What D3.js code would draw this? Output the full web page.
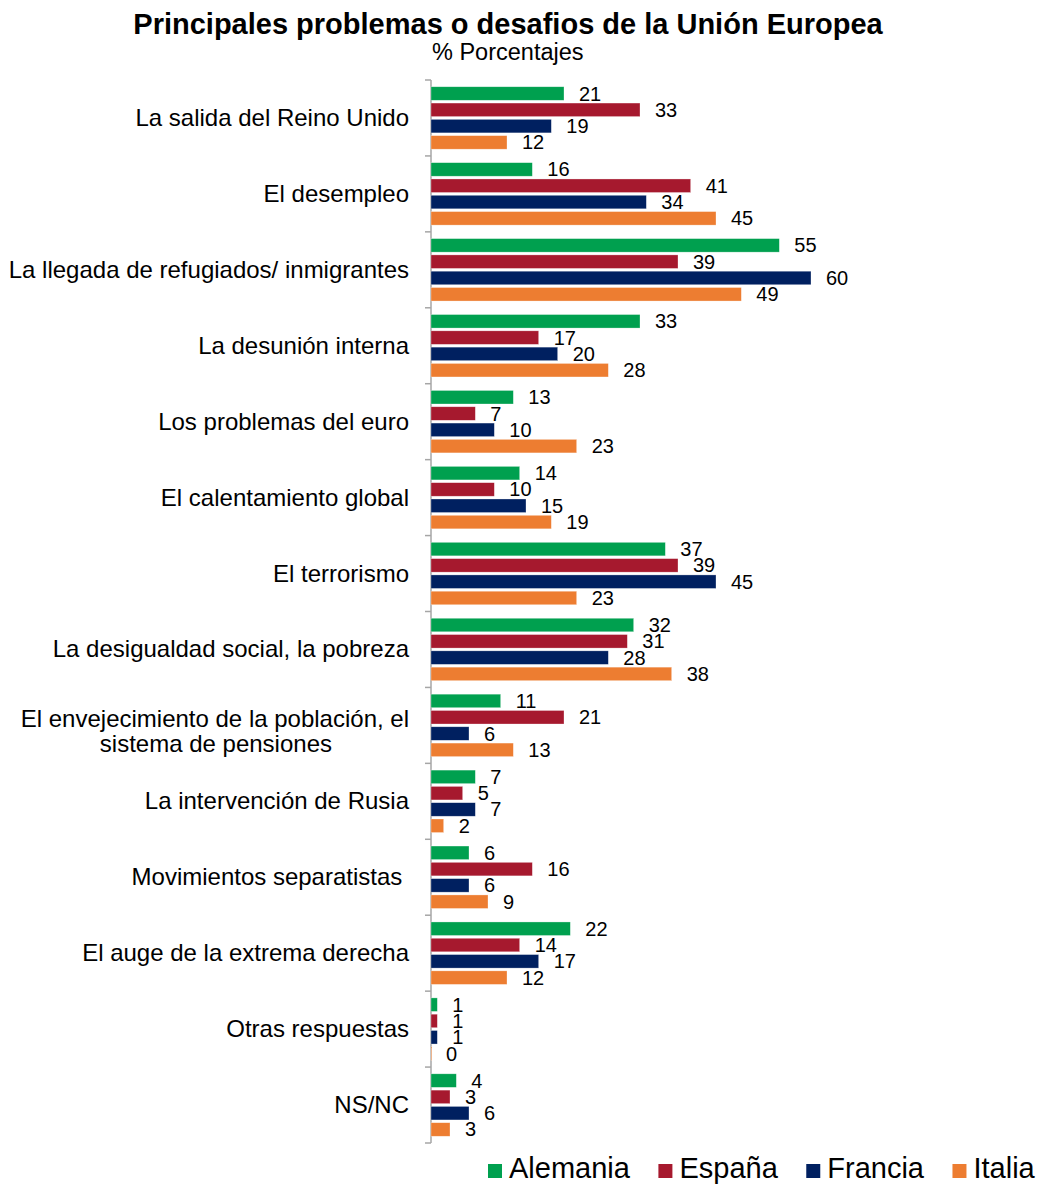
<!DOCTYPE html>
<html>
<head>
<meta charset="utf-8">
<script src="https://cdn.jsdelivr.net/npm/d3@7"></script>
<style>
  body { margin: 0; background: #fff; }
  text { font-family: "Liberation Sans", Arial, sans-serif; fill: #000; }
</style>
</head>
<body>
<div id="chart"></div>
<script>
const categories = [
  "La salida del Reino Unido",
  "El desempleo",
  "La llegada de refugiados/ inmigrantes",
  "La desunión interna",
  "Los problemas del euro",
  "El calentamiento global",
  "El terrorismo",
  "La desigualdad social, la pobreza",
  "El envejecimiento de la población, el|sistema de pensiones",
  "La intervención de Rusia",
  "Movimientos separatistas ",
  "El auge de la extrema derecha",
  "Otras respuestas",
  "NS/NC"
];
const seriesNames = ["Alemania", "España", "Francia", "Italia"];
const alemania = [21, 16, 55, 33, 13, 14, 37, 32, 11, 7, 6, 22, 1, 4];
const espana   = [33, 41, 39, 17, 7, 10, 39, 31, 21, 5, 16, 14, 1, 3];
const francia  = [19, 34, 60, 20, 10, 15, 45, 28, 6, 7, 6, 17, 1, 6];
const italia   = [12, 45, 49, 28, 23, 19, 23, 38, 13, 2, 9, 12, 0, 3];
const colors = ["#00A04F", "#A6192E", "#002060", "#ED7D31"];

const seriesValues = [alemania, espana, francia, italia];
const data = categories.map((c, i) => ({
  cat: c,
  vals: seriesNames.map((s, j) => ({ key: s, value: seriesValues[j][i] }))
}));

const width = 1043, height = 1184;
const svg = d3.select("#chart").append("svg")
  .attr("width", width)
  .attr("height", height);

const x = d3.scaleLinear().domain([0, 60]).range([431, 811]);
const y = d3.scaleBand().domain(categories).range([80, 1143]).padding(0);
const yInner = d3.scaleBand().domain(seriesNames)
  .range([0, y.bandwidth()]).paddingInner(0.17).paddingOuter(0.414);
const color = d3.scaleOrdinal().domain(seriesNames).range(colors);

// title
svg.append("text")
  .attr("x", 508).attr("y", 34)
  .attr("text-anchor", "middle")
  .attr("font-size", 29).attr("font-weight", "bold")
  .text("Principales problemas o desafios de la Unión Europea");
svg.append("text")
  .attr("x", 432).attr("y", 60)
  .attr("font-size", 23.5)
  .text("% Porcentajes");

// axis line + ticks at band edges
const edges = d3.range(categories.length + 1).map(i => y.range()[0] + i * y.step());
svg.append("line")
  .attr("x1", x(0)).attr("x2", x(0))
  .attr("y1", y.range()[0]).attr("y2", y.range()[1])
  .attr("stroke", "#a6a6a6").attr("stroke-width", 1.5);
svg.selectAll(".tick").data(edges).join("line")
  .attr("class", "tick")
  .attr("x1", x(0) - 6).attr("x2", x(0))
  .attr("y1", d => d).attr("y2", d => d)
  .attr("stroke", "#a6a6a6").attr("stroke-width", 1.5);

// category labels
const labels = svg.selectAll(".cat").data(data).join("text")
  .attr("class", "cat")
  .attr("font-size", 24)
  .attr("text-anchor", "end")
  .style("white-space", "pre");
labels.each(function(d) {
  const t = d3.select(this);
  const lines = d.cat.split("|");
  const cy = y(d.cat) + y.bandwidth() / 2;
  if (lines.length === 1) {
    t.append("tspan").attr("x", 409).attr("y", cy + 8).text(lines[0]);
  } else {
    t.append("tspan").attr("x", 409).attr("y", cy + 2).text(lines[0]);
    t.append("tspan").attr("x", 332).attr("y", cy + 27).text(lines[1]);
  }
});

// bars
const groups = svg.selectAll(".grp").data(data).join("g")
  .attr("class", "grp")
  .attr("transform", d => `translate(0,${y(d.cat)})`);

groups.selectAll("rect").data(d => d.vals).join("rect")
  .attr("x", x(0))
  .attr("y", d => yInner(d.key))
  .attr("width", d => Math.max(0.8, x(d.value) - x(0)))
  .attr("height", yInner.bandwidth())
  .attr("fill", d => color(d.key))
  .attr("stroke", "#ffffff")
  .attr("stroke-opacity", 0.5)
  .attr("stroke-width", 0.6);

groups.selectAll(".val").data(d => d.vals).join("text")
  .attr("class", "val")
  .attr("x", d => x(d.value) + 15)
  .attr("y", d => yInner(d.key) + yInner.bandwidth() / 2 + 7)
  .attr("font-size", 20)
  .text(d => d.value);

// legend
let lx = 488;
const legend = svg.append("g");
seriesNames.forEach(s => {
  legend.append("rect")
    .attr("x", lx).attr("y", 1164)
    .attr("width", 14).attr("height", 14)
    .attr("fill", color(s));
  const t = legend.append("text")
    .attr("x", lx + 21).attr("y", 1178)
    .attr("font-size", 29)
    .text(s);
  lx += 21 + t.node().getComputedTextLength() + 28.5;
});
</script>
</body>
</html>
